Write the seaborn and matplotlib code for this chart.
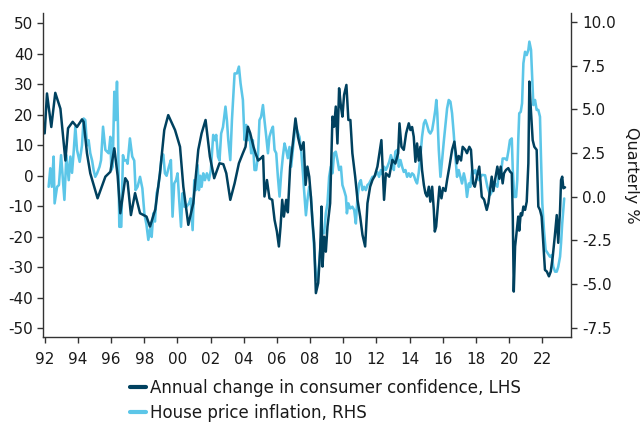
import numpy as np
import pandas as pd
import matplotlib
matplotlib.use("Agg")
import matplotlib.pyplot as plt
from matplotlib.lines import Line2D
import seaborn as sns

# ---------------- data ----------------
cc_dates = [1992.0, 1992.14, 1992.40, 1992.64, 1992.95, 1993.25, 1993.41, 1993.69, 1993.95, 1994.25,
            1994.35, 1994.55, 1994.75, 1995.19, 1995.66, 1995.96, 1996.20, 1996.40, 1996.56, 1996.86,
            1997.00, 1997.20, 1997.45, 1997.75, 1998.14, 1998.35, 1998.67, 1998.95, 1999.21, 1999.45,
            1999.86, 2000.16, 2000.36, 2000.66, 2000.96, 2001.26, 2001.46, 2001.70, 2001.96, 2002.22,
            2002.54, 2002.77, 2002.95, 2003.19, 2003.45, 2003.71, 2003.95, 2004.11, 2004.25, 2004.39,
            2004.59, 2004.71, 2004.87, 2005.05, 2005.17, 2005.25, 2005.40, 2005.55, 2005.72, 2005.86,
            2006.00, 2006.12, 2006.22, 2006.32, 2006.42, 2006.56, 2006.66, 2006.80, 2006.96, 2007.12,
            2007.27, 2007.36, 2007.46, 2007.61, 2007.73, 2007.84, 2007.95, 2008.05, 2008.14, 2008.25,
            2008.35, 2008.49, 2008.61, 2008.69, 2008.75, 2008.85, 2008.95, 2009.05, 2009.21, 2009.35,
            2009.45, 2009.55, 2009.65, 2009.75, 2009.86, 2009.95, 2010.05, 2010.19, 2010.31, 2010.43,
            2010.55, 2010.72, 2010.86, 2011.02, 2011.16, 2011.32, 2011.46, 2011.62, 2011.76, 2011.90,
            2012.06, 2012.30, 2012.46, 2012.57, 2012.77, 2012.96, 2013.14, 2013.31, 2013.39, 2013.51,
            2013.65, 2013.79, 2013.95, 2014.05, 2014.15, 2014.25, 2014.35, 2014.45, 2014.55, 2014.65,
            2014.75, 2014.86, 2014.95, 2015.05, 2015.16, 2015.25, 2015.36, 2015.46, 2015.52, 2015.60,
            2015.70, 2015.80, 2015.92, 2016.02, 2016.16, 2016.26, 2016.40, 2016.56, 2016.70, 2016.86,
            2016.96, 2017.10, 2017.20, 2017.36, 2017.46, 2017.60, 2017.70, 2017.83, 2017.93, 2018.07,
            2018.20, 2018.35, 2018.49, 2018.65, 2018.75, 2018.85, 2018.95, 2019.05, 2019.15, 2019.29,
            2019.41, 2019.49, 2019.61, 2019.69, 2019.81, 2019.95, 2020.05, 2020.16, 2020.22, 2020.28,
            2020.36, 2020.46, 2020.55, 2020.61, 2020.70, 2020.78, 2020.86, 2020.96, 2021.06, 2021.16,
            2021.22, 2021.30, 2021.42, 2021.52, 2021.66, 2021.76, 2021.86, 2021.96, 2022.06, 2022.16,
            2022.27, 2022.40, 2022.51, 2022.63, 2022.75, 2022.87, 2022.96, 2023.07, 2023.13, 2023.20,
            2023.27, 2023.37]
cc_values = [13.9, 27.0, 16.0, 27.2, 22.0, 5.0, 15.6, 17.7, 16.0, 18.5,
             17.7, 7.4, 0.8, -7.4, -0.3, 1.3, 9.0, 0.0, -12.3, -0.8,
             -2.0, -12.9, -5.7, -12.3, -13.4, -16.7, -11.0, 0.8, 15.0, 19.9,
             15.0, 9.5, -3.6, -16.1, -9.0, 8.5, 13.9, 18.3, 6.3, -0.8,
             4.1, 3.8, 0.8, -7.9, -2.5, 4.1, 7.4, 9.5, 16.1, 14.0,
             9.5, 7.4, 5.0, 5.8, 6.5, -6.8, -1.4, -7.4, -7.9, -14.5,
             -18.3, -23.2, -16.7, -7.9, -13.4, -7.9, -12.0, 3.0, 10.6, 18.8,
             12.8, 10.6, 8.5, 11.0, -3.0, 3.0, -0.3, -6.9, -14.5, -22.0,
             -38.5, -35.2, -24.3, -10.1, -29.8, -20.0, -24.9, -16.7, -9.0, 19.4,
             16.1, 22.7, 10.6, 28.7, 22.7, 19.4, 26.5, 29.8, 18.3, 18.3,
             7.4, -0.3, -7.9, -13.4, -19.4, -23.2, -9.0, -3.6, -1.4, 0.0,
             3.0, 11.7, -7.9, 0.8, -0.3, 5.2, 4.0, 7.4, 17.2, 9.5,
             8.5, 13.9, 17.2, 15.0, 16.0, 12.8, 4.6, 10.6, 5.0, 9.5,
             1.9, -3.0, -5.7, -6.8, -3.6, -8.5, -3.6, -11.2, -18.3, -16.7,
             -10.1, -3.6, -7.4, -4.0, -5.0, -1.4, 3.0, 8.5, 11.2, 4.1,
             6.5, 5.0, 9.5, 8.5, 7.4, 9.5, 8.5, -2.5, -3.6, 0.0,
             3.0, -6.9, -7.8, -11.2, -9.0, -4.7, -0.3, -5.0, -1.4, 3.0,
             -1.0, 3.0, -2.5, 0.8, 1.9, 2.5, 1.4, 0.8, -13.4, -38.0,
             -23.2, -18.0, -13.4, -18.0, -12.3, -13.0, -10.1, -11.2, -8.5, 4.1,
             30.9, 22.7, 11.7, 9.5, 8.5, -10.1, -11.2, -13.4, -22.0, -30.9,
             -31.4, -33.0, -31.4, -26.5, -20.0, -12.9, -22.0, -11.2, -1.4, -0.3,
             -4.1, -3.8]

hp_dates = [1992.24, 1992.34, 1992.43, 1992.54, 1992.60, 1992.75, 1992.86, 1992.99, 1993.19, 1993.31,
            1993.45, 1993.55, 1993.65, 1993.75, 1993.85, 1993.95, 1994.11, 1994.25, 1994.35, 1994.45,
            1994.55, 1994.65, 1994.75, 1994.86, 1994.95, 1995.05, 1995.16, 1995.31, 1995.40, 1995.52,
            1995.66, 1995.76, 1995.86, 1995.96, 1996.02, 1996.10, 1996.20, 1996.28, 1996.36, 1996.42,
            1996.50, 1996.62, 1996.72, 1996.80, 1996.92, 1997.00, 1997.14, 1997.28, 1997.40, 1997.48,
            1997.60, 1997.75, 1997.89, 1998.01, 1998.14, 1998.25, 1998.35, 1998.45, 1998.55, 1998.65,
            1998.75, 1998.85, 1998.95, 1999.05, 1999.15, 1999.25, 1999.35, 1999.49, 1999.61, 1999.71,
            1999.81, 1999.92, 2000.01, 2000.11, 2000.22, 2000.31, 2000.42, 2000.55, 2000.70, 2000.80,
            2000.92, 2001.02, 2001.12, 2001.22, 2001.30, 2001.38, 2001.46, 2001.56, 2001.66, 2001.78,
            2001.90, 2002.02, 2002.16, 2002.27, 2002.34, 2002.45, 2002.54, 2002.64, 2002.75, 2002.90,
            2002.99, 2003.07, 2003.19, 2003.29, 2003.45, 2003.59, 2003.71, 2003.81, 2003.95, 2004.05,
            2004.15, 2004.25, 2004.35, 2004.45, 2004.55, 2004.65, 2004.75, 2004.86, 2004.95, 2005.05,
            2005.16, 2005.25, 2005.36, 2005.46, 2005.55, 2005.66, 2005.76, 2005.86, 2005.96, 2006.06,
            2006.16, 2006.26, 2006.36, 2006.46, 2006.56, 2006.66, 2006.76, 2006.86, 2007.00, 2007.12,
            2007.22, 2007.36, 2007.46, 2007.57, 2007.63, 2007.75, 2007.84, 2007.95, 2008.05, 2008.14,
            2008.25, 2008.35, 2008.45, 2008.55, 2008.65, 2008.75, 2008.85, 2008.95, 2009.05, 2009.15,
            2009.25, 2009.35, 2009.45, 2009.55, 2009.65, 2009.75, 2009.86, 2009.95, 2010.05, 2010.16,
            2010.22, 2010.31, 2010.42, 2010.55, 2010.66, 2010.76, 2010.86, 2010.96, 2011.06, 2011.16,
            2011.26, 2011.36, 2011.46, 2011.56, 2011.66, 2011.76, 2011.86, 2011.96, 2012.06, 2012.16,
            2012.27, 2012.36, 2012.46, 2012.57, 2012.66, 2012.77, 2012.87, 2012.96, 2013.05, 2013.14,
            2013.25, 2013.35, 2013.45, 2013.55, 2013.65, 2013.75, 2013.85, 2013.95, 2014.05, 2014.15,
            2014.25, 2014.35, 2014.45, 2014.55, 2014.65, 2014.75, 2014.86, 2014.95, 2015.05, 2015.16,
            2015.25, 2015.36, 2015.46, 2015.55, 2015.61, 2015.67, 2015.76, 2015.86, 2015.96, 2016.06,
            2016.16, 2016.26, 2016.36, 2016.46, 2016.56, 2016.66, 2016.76, 2016.86, 2016.96, 2017.06,
            2017.16, 2017.27, 2017.36, 2017.46, 2017.57, 2017.66, 2017.77, 2017.87, 2017.96, 2018.07,
            2018.17, 2018.27, 2018.37, 2018.55, 2018.69, 2018.85, 2019.01, 2019.15, 2019.29, 2019.41,
            2019.49, 2019.61, 2019.75, 2019.86, 2019.95, 2020.05, 2020.16, 2020.22, 2020.31, 2020.42,
            2020.49, 2020.55, 2020.61, 2020.70, 2020.78, 2020.86, 2020.96, 2021.06, 2021.16, 2021.22,
            2021.32, 2021.40, 2021.46, 2021.56, 2021.66, 2021.76, 2021.86, 2021.92, 2022.00, 2022.10,
            2022.20, 2022.33, 2022.46, 2022.57, 2022.66, 2022.77, 2022.87, 2022.96, 2023.07, 2023.13,
            2023.20, 2023.32]
hp_values = [0.57, 1.63, 0.57, 2.30, -0.38, 0.57, 0.67, 2.38, -0.18, 2.38,
             0.95, 2.30, 1.37, 2.58, 4.01, 2.68, 2.00, 2.94, 4.48, 4.39,
             2.94, 3.24, 2.49, 2.07, 1.53, 1.14, 1.34, 1.72, 2.10, 4.01,
             2.68, 2.58, 2.49, 3.43, 1.53, 1.72, 6.01, 4.39, 6.59, 4.01,
             -1.72, -1.72, 2.38, 2.07, 2.10, 1.89, 3.34, 2.30, 2.07, 0.38,
             0.57, 1.14, 0.48, -0.95, -1.62, -2.47, -1.84, -2.30, -0.95, -1.42,
             0.20, 0.57, 1.34, 2.30, 2.42, 1.34, 1.20, 1.72, 2.10, -1.14,
             0.76, 0.95, 1.34, -0.18, -1.72, 0.20, -0.57, -0.57, -0.38, -0.10,
             -1.91, 0.95, 0.38, 1.81, 0.38, 1.20, 0.57, 1.34, 0.95, 1.34,
             0.95, 1.53, 3.54, 3.24, 3.54, 2.30, 2.07, 3.62, 3.99, 5.16,
             4.34, 3.24, 2.10, 4.39, 7.06, 7.06, 7.45, 6.49, 5.54, 3.24,
             4.11, 3.24, 3.64, 2.49, 3.24, 1.53, 1.53, 2.38, 4.39, 4.58,
             5.25, 4.39, 3.43, 2.49, 3.43, 3.78, 4.01, 2.68, 2.49, 1.14,
             0.01, 1.34, 2.30, 3.05, 2.68, 2.21, 2.85, 1.72, 3.05, 4.11,
             3.78, 3.43, 2.68, 1.34, 0.50, -1.06, -0.20, 0.57, 0.01, -1.34,
             -3.05, -4.57, -4.78, -3.81, -2.47, -1.95, -2.10, -0.95, -0.38, 1.14,
             1.72, 1.34, 2.49, 2.58, 2.10, 1.53, 1.72, 0.67, 0.38, 0.01,
             -0.95, -0.38, -0.67, -0.57, -0.76, -1.53, -0.01, 0.76, 0.95, 0.38,
             0.57, 0.38, 0.67, 0.76, 0.95, 1.14, 1.14, 1.28, 1.41, 1.14,
             1.53, 1.28, 1.72, 1.53, 1.72, 2.00, 2.38, 2.10, 1.53, 2.58,
             2.68, 1.72, 2.10, 1.72, 1.42, 1.53, 1.14, 1.34, 1.14, 1.34,
             1.25, 0.95, 0.76, 1.37, 2.30, 3.43, 4.20, 4.39, 4.11, 3.73,
             3.62, 3.82, 4.39, 4.97, 5.54, 4.78, 2.68, 1.14, 2.10, 3.15,
             4.11, 5.05, 5.54, 5.44, 4.78, 3.62, 2.30, 1.14, 1.53, 1.14,
             0.76, 1.34, 0.95, -0.01, 0.76, 0.57, 1.53, 1.34, 1.53, 1.14,
             0.95, 1.14, 1.25, 1.23, 0.57, 0.10, 0.38, 0.76, 0.57, 1.53,
             1.14, 2.19, 2.19, 2.10, 2.58, 3.24, 3.34, 1.53, -0.01, -0.01,
             0.95, 3.24, 4.78, 4.86, 5.35, 7.64, 8.30, 8.11, 8.41, 8.88,
             8.41, 6.68, 5.25, 5.54, 4.97, 4.97, 4.58, 2.30, -0.38, -1.91,
             -3.05, -3.24, -3.43, -3.34, -4.01, -4.29, -4.29, -4.01, -3.43, -2.65,
             -1.53, -0.10]

x_ticks = [1992, 1994, 1996, 1998, 2000, 2002, 2004, 2006, 2008, 2010,
           2012, 2014, 2016, 2018, 2020, 2022]
x_tick_labels = ["92", "94", "96", "98", "00", "02", "04", "06", "08", "10",
                 "12", "14", "16", "18", "20", "22"]
left_ticks = [50, 40, 30, 20, 10, 0, -10, -20, -30, -40, -50]
right_ticks = [10.0, 7.5, 5.0, 2.5, 0.0, -2.5, -5.0, -7.5]

cc_label = "Annual change in consumer confidence, LHS"
hp_label = "House price inflation, RHS"
right_axis_label = "Quarterly %"

# ---------------- style ----------------
DARK = "#00415f"
LIGHT = "#5cc6e8"
TXT = "#1a1a1a"

sns.set_theme(style="ticks")
plt.rcParams["font.family"] = ["DejaVu Sans"]
plt.rcParams["axes.unicode_minus"] = False

cc_df = pd.DataFrame({"date": cc_dates, "value": cc_values})
hp_df = pd.DataFrame({"date": hp_dates, "value": hp_values})

fig = plt.figure(figsize=(6.43, 4.23), dpi=100)
ax = fig.add_axes([43 / 643, 86 / 423, (571 - 43) / 643, (337 - 13) / 423])
ax2 = ax.twinx()

sns.lineplot(data=hp_df, x="date", y="value", ax=ax2, color=LIGHT, linewidth=1.85,
             legend=False)
sns.lineplot(data=cc_df, x="date", y="value", ax=ax, color=DARK, linewidth=1.8,
             legend=False)

# dark line above the light one
ax.set_zorder(ax2.get_zorder() + 1)
ax.patch.set_visible(False)

ax.set_xlim(1991.9, 2023.73)
ax.set_ylim(-52.9, 53.4)
ax2.set_ylim(-8.03, 10.52)

ax.set_xticks(x_ticks)
ax.set_xticklabels(x_tick_labels)
ax.set_yticks(left_ticks)
ax.set_yticklabels([str(v) for v in left_ticks])
ax2.set_yticks(right_ticks)
ax2.set_yticklabels([f"{v:.1f}" for v in right_ticks])

ax.set_xlabel("")
ax.set_ylabel("")
ax2.set_xlabel("")
ax2.set_ylabel(right_axis_label, rotation=270, labelpad=17, fontsize=11.5, color=TXT)

for a in (ax, ax2):
    a.spines["top"].set_visible(False)
    for s in ("left", "right", "bottom"):
        a.spines[s].set_color("#333333")
        a.spines[s].set_linewidth(1.0)
    a.tick_params(colors="#333333", labelcolor=TXT, labelsize=11, length=4, width=1.0)
ax.spines["right"].set_visible(False)
ax2.spines["left"].set_visible(False)
ax2.spines["bottom"].set_visible(False)
ax.tick_params(axis="x", pad=6.5)
ax.tick_params(axis="y", pad=3)
ax2.tick_params(axis="y", pad=4)
ax.grid(False)
ax2.grid(False)

handles = [Line2D([], [], color=DARK, linewidth=3),
           Line2D([], [], color=LIGHT, linewidth=3)]
fig.legend(handles, [cc_label, hp_label], loc="upper center",
           bbox_to_anchor=(0.506, 0.105), frameon=False, fontsize=12,
           handlelength=0.95, handletextpad=0.25, labelspacing=0.46,
           borderaxespad=0, borderpad=0, alignment="left", labelcolor=TXT)

fig.savefig("out.png", dpi=100)
